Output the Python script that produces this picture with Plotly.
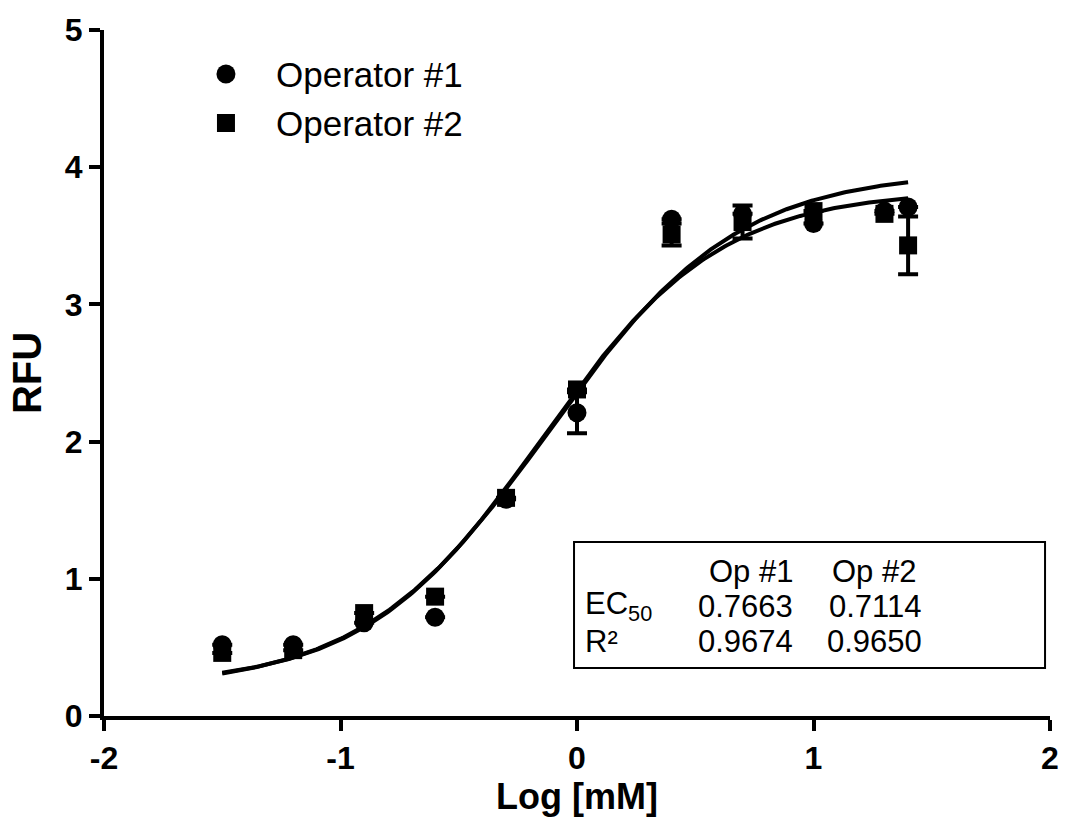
import numpy as np
import plotly.graph_objects as go

# Log concentration (mM) of each dilution
log_conc = [-1.5, -1.2, -0.9, -0.6, -0.3, 0.0, 0.4, 0.7, 1.0, 1.3, 1.4]

# Mean RFU per operator
op1_rfu = [0.52, 0.52, 0.68, 0.72, 1.58, 2.21, 3.62, 3.66, 3.59, 3.68, 3.71]
op2_rfu = [0.46, 0.48, 0.75, 0.87, 1.59, 2.38, 3.51, 3.60, 3.68, 3.66, 3.43]

# Error (SEM) per operator
op1_err = [0.0, 0.0, 0.0, 0.0, 0.0, 0.15, 0.0, 0.0, 0.0, 0.0, 0.0]
op2_err = [0.0, 0.0, 0.0, 0.0, 0.0, 0.0, 0.08, 0.12, 0.0, 0.0, 0.21]

# Four-parameter logistic fit parameters: bottom, top, EC50 (mM), Hill slope
op1_fit = dict(bottom=0.20, top=3.97, ec50=0.7663, hill=1.10)
op2_fit = dict(bottom=0.22, top=3.83, ec50=0.7114, hill=1.16)

# Summary table
table_cols = ["Op #1", "Op #2"]
table_rows = ["EC<sub>50</sub>", "R²"]
ec50_text = ["0.7663", "0.7114"]
r2_text = ["0.9674", "0.9650"]

legend_names = ["Operator #1", "Operator #2"]

FONT = "Liberation Sans, Arial, sans-serif"


def four_pl(x, p):
    x = np.asarray(x)
    return p["bottom"] + (p["top"] - p["bottom"]) / (
        1 + 10 ** ((np.log10(p["ec50"]) - x) * p["hill"]))


x_fit = np.linspace(min(log_conc), max(log_conc), 300)

fig = go.Figure()

for p in (op1_fit, op2_fit):
    fig.add_trace(go.Scatter(
        x=x_fit, y=four_pl(x_fit, p), mode="lines",
        line=dict(color="black", width=4), hoverinfo="skip", showlegend=False))

err_style = dict(type="data", visible=True, color="black", thickness=4, width=10)

fig.add_trace(go.Scatter(
    x=log_conc, y=op1_rfu, mode="markers", name=legend_names[0],
    marker=dict(symbol="circle", size=19, color="black"),
    error_y=dict(array=op1_err, **err_style), showlegend=False))

fig.add_trace(go.Scatter(
    x=log_conc, y=op2_rfu, mode="markers", name=legend_names[1],
    marker=dict(symbol="square", size=18, color="black"),
    error_y=dict(array=op2_err, **err_style), showlegend=False))

# Plot area in pixels
L, R, T, B = 104, 13, 30, 111
W = 1071 - L - R
H = 827 - T - B


def px(xp):
    return (xp - L) / W


def py(yp):
    return (827 - B - yp) / H


shapes = []
annotations = []

# Legend glyphs and labels
for i, (sym, yc) in enumerate([("circle", 74), ("rect", 123)]):
    half = 9.5 if sym == "circle" else 9
    shapes.append(dict(
        type=sym, xref="paper", yref="paper",
        xsizemode="pixel", ysizemode="pixel",
        xanchor=px(227), yanchor=py(yc),
        x0=-half, x1=half, y0=-half, y1=half,
        fillcolor="black", line=dict(width=0)))
    annotations.append(dict(
        text=legend_names[i], xref="paper", yref="paper",
        x=px(275), y=py(yc), xanchor="left", yanchor="middle",
        showarrow=False, font=dict(family=FONT, size=35, color="black")))

# Table box
shapes.append(dict(
    type="rect", xref="paper", yref="paper",
    x0=px(578), x1=px(1053), y0=py(668), y1=py(542),
    line=dict(color="black", width=2), fillcolor="rgba(0,0,0,0)"))

tfont = dict(family=FONT, size=31, color="black")
row_y = [571, 606, 641]
col_right = [801, 931]
for j, c in enumerate(table_cols):
    annotations.append(dict(
        text=c, xref="paper", yref="paper", x=px(col_right[j] - (0 if j == 0 else 6)),
        y=py(row_y[0]), xanchor="right", yanchor="middle",
        showarrow=False, font=tfont))
for i, (lab, vals) in enumerate(zip(table_rows, [ec50_text, r2_text])):
    annotations.append(dict(
        text=lab, xref="paper", yref="paper", x=px(587), y=py(row_y[i + 1]),
        xanchor="left", yanchor="middle", showarrow=False, font=tfont))
    for j, v in enumerate(vals):
        annotations.append(dict(
            text=v, xref="paper", yref="paper", x=px(col_right[j]),
            y=py(row_y[i + 1]), xanchor="right", yanchor="middle",
            showarrow=False, font=tfont))

axis_common = dict(
    showline=True, linecolor="black", linewidth=4,
    ticks="outside", ticklen=11, tickwidth=4, tickcolor="black",
    showgrid=False, zeroline=False, mirror=False,
)

fig.update_layout(
    width=1071, height=827,
    margin=dict(l=L, r=R, t=T, b=B),
    paper_bgcolor="white", plot_bgcolor="white",
    font=dict(family=FONT, color="black"),
    xaxis=dict(range=[-2, 2], tickvals=[-2, -1, 0, 1, 2], ticktext=["-2", "-1", "0", "1", "2"],
               tickfont=dict(family=FONT, size=32, color="black", weight="bold"),
               title=dict(text="<b>Log [mM]</b>", font=dict(family=FONT, size=36, color="black"), standoff=0),
               **axis_common),
    yaxis=dict(range=[0, 5], tickvals=[0, 1, 2, 3, 4, 5],
               tickfont=dict(family=FONT, size=32, color="black", weight="bold"),
               title=dict(text="<b>RFU</b>", font=dict(family=FONT, size=40, color="black"), standoff=12),
               **axis_common),
    shapes=shapes, annotations=annotations,
    showlegend=False,
)

fig.write_html("out.html")
